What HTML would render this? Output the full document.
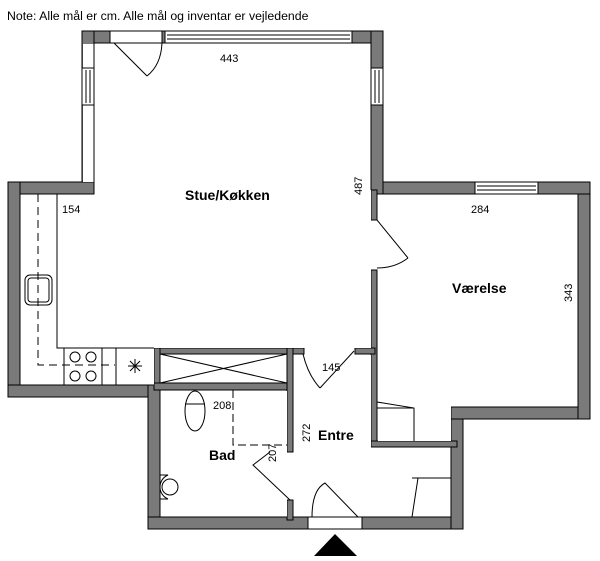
<!DOCTYPE html>
<html><head><meta charset="utf-8"><style>
body{margin:0;background:#fff;}
svg{display:block}
text{font-family:"Liberation Sans",sans-serif;fill:#000}
.w{fill:#7a7a7a;stroke:#000;stroke-width:1}
.l{stroke:#000;stroke-width:1;fill:none}
.wi{fill:#fff;stroke:#000;stroke-width:1}
.b{font-weight:bold;font-size:14px}
.d{font-size:11px}
</style></head><body>
<svg width="600" height="561" viewBox="0 0 600 561">
<text x="7" y="20" font-size="12.3">Note: Alle mål er cm. Alle mål og inventar er vejledende</text>
<!-- outer walls -->
<rect class="w" x="82" y="31" width="301" height="12"/>
<rect class="w" x="82" y="31" width="12" height="163"/>
<rect class="w" x="8" y="182" width="86" height="12"/>
<rect class="w" x="8" y="182" width="12" height="215"/>
<rect class="w" x="8" y="385" width="146" height="12"/>
<rect class="w" x="148" y="385" width="12" height="144"/>
<rect class="w" x="148" y="517" width="160" height="12"/>
<rect class="w" x="362" y="517" width="101" height="12"/>
<rect class="w" x="451" y="407" width="12" height="122"/>
<rect class="w" x="451" y="407" width="139" height="12"/>
<rect class="w" x="578" y="182" width="12" height="237"/>
<rect class="w" x="371" y="182" width="219" height="12"/>
<rect class="w" x="371" y="31" width="12" height="163"/>
<rect class="w" x="371" y="190" width="6" height="30"/>
<!-- interior walls -->
<rect class="w" x="371" y="270" width="6" height="177"/>
<rect class="w" x="371" y="441" width="86" height="6"/>
<rect class="w" x="154" y="348" width="150" height="6"/>
<rect class="w" x="355" y="348" width="20" height="6"/>
<rect class="w" x="154" y="348" width="6" height="40"/>
<rect class="w" x="154" y="383" width="139" height="7"/>
<rect class="w" x="287" y="348" width="6" height="104"/>
<rect class="w" x="287" y="500" width="6" height="20"/>
<!-- fill joints white cover -->
<rect x="83" y="44" width="288" height="138" fill="#fff"/>
<rect x="21" y="195" width="350" height="153" fill="#fff"/>
<rect x="378" y="195" width="73" height="246" fill="#fff"/>
<rect x="451" y="195" width="127" height="212" fill="#fff"/>
<rect x="161" y="391" width="126" height="126" fill="#fff"/>
<rect x="294" y="355" width="77" height="162" fill="#fff"/>
<rect x="378" y="448" width="73" height="69" fill="#fff"/>
<rect x="21" y="195" width="133" height="190" fill="#fff"/>
<rect x="95" y="43" width="276" height="152" fill="#fff"/>
<line class="l" x1="94" y1="43" x2="371" y2="43"/>
<line class="l" x1="94" y1="43" x2="94" y2="194"/>
<line class="l" x1="20" y1="194" x2="94" y2="194"/>
<line class="l" x1="20" y1="194" x2="20" y2="385"/>
<line class="l" x1="20" y1="385" x2="154" y2="385"/>
<line class="l" x1="371" y1="43" x2="371" y2="190"/>
<line class="l" x1="377" y1="194" x2="578" y2="194"/>
<line class="l" x1="578" y1="194" x2="578" y2="407"/>
<line class="l" x1="451" y1="407" x2="578" y2="407"/>
<line class="l" x1="160" y1="390" x2="160" y2="517"/>
<line class="l" x1="160" y1="517" x2="287" y2="517"/>
<line class="l" x1="293" y1="517" x2="308" y2="517"/>
<line class="l" x1="362" y1="517" x2="451" y2="517"/>
<line class="l" x1="451" y1="447" x2="451" y2="517"/>
<!-- windows -->
<rect class="wi" x="110" y="31" width="52" height="12"/>
<rect class="wi" x="165" y="31" width="187" height="12"/>
<line class="l" x1="167" y1="35" x2="350" y2="35"/><line class="l" x1="167" y1="39" x2="350" y2="39"/>
<rect class="wi" x="82" y="68" width="12" height="37"/><line class="l" x1="86" y1="70" x2="86" y2="103"/><line class="l" x1="90" y1="70" x2="90" y2="103"/>
<rect class="wi" x="371" y="68" width="12" height="37"/><line class="l" x1="375" y1="70" x2="375" y2="103"/><line class="l" x1="379" y1="70" x2="379" y2="103"/>
<rect class="wi" x="475" y="182" width="63" height="12"/><line class="l" x1="477" y1="186" x2="536" y2="186"/><line class="l" x1="477" y1="190" x2="536" y2="190"/>
<rect class="wi" x="308" y="517" width="54" height="12"/>
<!-- doors -->
<path class="l" d="M114 43 L147 76 M162 43 Q161 65 147 76"/>
<path class="l" d="M377 220 L408 258 M377 268 Q395 268 408 258"/>
<path class="l" d="M354 351 L320 388 M303 354 Q308 375 320 388"/>
<path class="l" d="M290 500 L253 465 L270 452"/>
<path class="l" d="M312 517 Q312 490 325 483 L358 517"/>
<!-- kitchen -->
<path class="l" d="M57 194 V348 H154"/>
<path class="l" d="M38 194 V365 H115" stroke-dasharray="8,5"/>
<rect class="l" x="25" y="275" width="27" height="30" rx="5"/><rect class="l" x="28" y="278" width="21" height="24" rx="3"/>
<rect class="l" x="64" y="348" width="38" height="37"/>
<circle class="l" cx="75" cy="357" r="5"/><circle class="l" cx="91" cy="357" r="5"/>
<circle class="l" cx="75" cy="376" r="5"/><circle class="l" cx="91" cy="376" r="5"/>
<line class="l" x1="116" y1="348" x2="116" y2="385"/>
<path class="l" d="M128 366 H142 M135 359 V373 M130 361 L140 371 M140 361 L130 371"/>
<!-- shower -->
<rect class="l" x="160" y="354" width="127" height="29"/>
<path class="l" d="M160 354 L287 383 M287 354 L160 383"/>
<!-- bath -->
<ellipse class="l" cx="195" cy="411" rx="10" ry="20"/><line class="l" x1="185" y1="404" x2="205" y2="404"/>
<path class="l" d="M160 475 H168 A13 13 0 0 0 168 499 H160"/><circle class="l" cx="170" cy="487" r="8"/>
<path class="l" d="M233 390 V445 H287" stroke-dasharray="8,4"/>
<!-- closets -->
<path class="l" d="M377 402 L414 408 V441 M377 408 H414"/>
<path class="l" d="M412 478 H451 M418 478 L412 517"/>
<polygon points="314,556 357,556 335,534" fill="#000"/>
<!-- labels -->
<text class="b" x="185" y="200">Stue/Køkken</text>
<text class="b" x="452" y="293">Værelse</text>
<text class="b" x="318" y="440">Entre</text>
<text class="b" x="209" y="460">Bad</text>
<text class="d" x="220" y="62">443</text>
<text class="d" x="62" y="213">154</text>
<text class="d" x="471" y="213">284</text>
<text class="d" x="322" y="371">145</text>
<text class="d" x="213" y="409">208</text>
<text class="d" transform="translate(362,195) rotate(-90)">487</text>
<text class="d" transform="translate(572,302) rotate(-90)">343</text>
<text class="d" transform="translate(310,442) rotate(-90)">272</text>
<text class="d" transform="translate(276,462) rotate(-90)">207</text>
</svg>
</body></html>
